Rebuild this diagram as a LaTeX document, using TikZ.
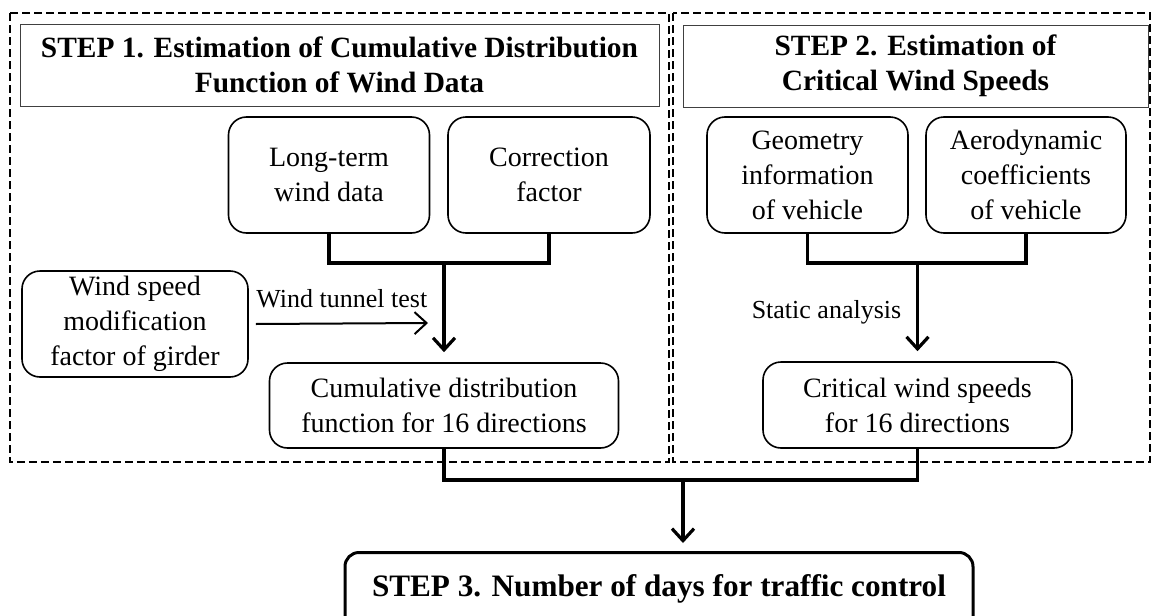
\documentclass[tikz,border=0pt]{standalone}
\usepackage{fontspec}
\setmainfont{Liberation Serif}
\usetikzlibrary{arrows.meta,calc,positioning}

\begin{document}
\begin{tikzpicture}[line join=miter,x=0.5pt,y=-0.5pt,>={Straight Barb[length=6pt,width=11pt]}]
\tikzstyle{every node}=[font=\fontsize{14}{17.5}\selectfont]
\tikzstyle{stepbox}=[draw=black!75,line width=0.5pt,align=center,inner sep=0pt,font=\fontsize{14.7}{17.5}\selectfont\bfseries]
\tikzstyle{itembox}=[draw,rounded corners=9pt,line width=0.8pt,align=center,inner sep=0pt]
\tikzstyle{finalbox}=[draw,rounded corners=7pt,line width=1.5pt,align=center,inner sep=0pt,font=\fontsize{15.6}{18}\selectfont\bfseries]
\tikzstyle{dashbox}=[line width=1pt,dash pattern=on 4pt off 2pt]
\tikzstyle{bracket}=[line width=1.6pt]
\tikzstyle{flow}=[line width=1.6pt,->]
\tikzstyle{note}=[font=\fontsize{13}{15}\selectfont]
\clip (0,0) rectangle (1153,616);
% dashed frames of step 1 and step 2
\draw[dashbox] (10,13) rectangle (669,462);
\draw[dashbox] (673,13) rectangle (1150,462);
% titles
\node[stepbox,minimum width=319.5pt,minimum height=41pt] (step1) at (339.5,65) {STEP 1. Estimation of Cumulative Distribution\\Function of Wind Data};
\node[stepbox,minimum width=232.5pt,minimum height=41pt] (step2) at (915.5,66) {STEP 2. Estimation of\\Critical Wind Speeds};
% inputs
\node[itembox,minimum width=100.5pt,minimum height=58pt] (longterm) at (329,175) {Long-term\\wind data};
\node[itembox,minimum width=101pt,minimum height=58pt] (correction) at (549,175) {Correction\\factor};
\node[itembox,minimum width=100.5pt,minimum height=58pt] (geometry) at (807.5,175) {Geometry\\information\\of vehicle};
\node[itembox,minimum width=100pt,minimum height=58pt] (aero) at (1026,175) {Aerodynamic\\coefficients\\of vehicle};
\node[itembox,minimum width=113pt,minimum height=53pt] (windspeed) at (135,324) {Wind speed\\modification\\factor of girder};
% results
\node[itembox,minimum width=174.5pt,minimum height=42.5pt] (cumulative) at (444,405.5) {Cumulative distribution\\function for 16 directions};
\node[itembox,minimum width=154.5pt,minimum height=43pt] (critical) at (917.5,405) {Critical wind speeds\\for 16 directions};
\node[finalbox,minimum width=314pt,text height=22pt,text depth=22pt,anchor=north] (step3) at (659,551) {STEP 3. Number of days for traffic control};
% junctions
\coordinate (joinL) at (444,263);
\coordinate (joinR) at (917.5,263);
\coordinate (joinB) at (683,480);
\coordinate (tunnel) at (428,323);
% connectors
\draw[bracket] (longterm.south) |- (joinL) -| (correction.south);
\draw[flow,shorten >=5pt] (joinL) -- (cumulative.north);
\draw[line width=1pt,->] ([xshift=3.5pt]windspeed.east) -- node[note,above=4pt] {Wind tunnel test} (tunnel);
\draw[bracket] (geometry.south) |- (joinR) -| (aero.south);
\draw[flow,shorten >=5pt] (joinR) -- node[note,pos=0.5,left=4pt] {Static analysis} (critical.north);
\draw[bracket] (cumulative.south) |- (joinB) -| (critical.south);
\draw[flow,shorten >=4pt] (joinB) -- (joinB |- step3.north);
\end{tikzpicture}
\end{document}
